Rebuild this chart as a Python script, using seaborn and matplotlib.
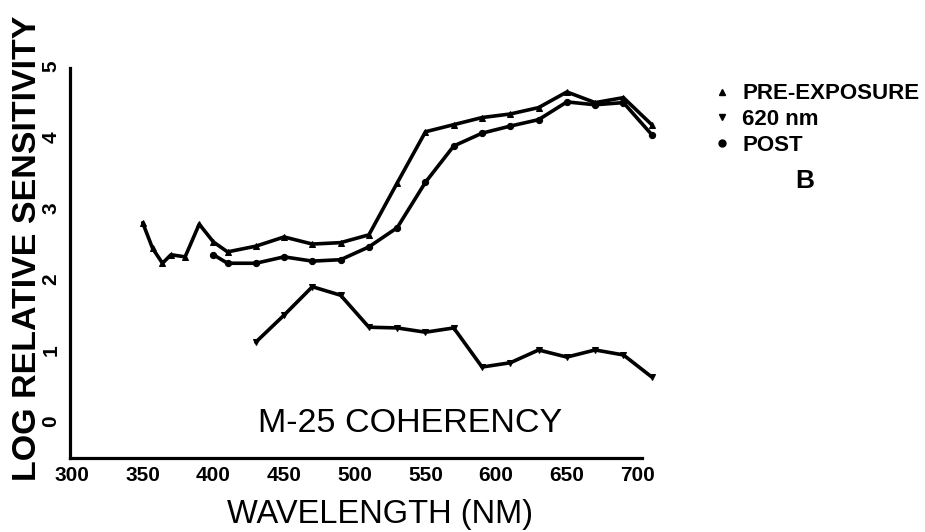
import numpy as np
import pandas as pd
import matplotlib
matplotlib.use('Agg')
import matplotlib.pyplot as plt
from matplotlib.lines import Line2D
import seaborn as sns

# spectral sensitivity
pre_wl = [350, 357, 364, 370, 380, 390, 400, 410, 430, 450, 470, 490, 510,
          530, 550, 570, 590, 610, 630, 650, 670, 690, 710]
pre_val = [2.82, 2.46, 2.25, 2.37, 2.34, 2.80, 2.55, 2.41, 2.49, 2.62, 2.52, 2.54, 2.65,
           3.38, 4.10, 4.20, 4.30, 4.35, 4.44, 4.66, 4.51, 4.58, 4.20]

post_wl = [400, 410, 430, 450, 470, 490, 510, 530, 550, 570, 590, 610, 630,
           650, 670, 690, 710]
post_val = [2.37, 2.25, 2.25, 2.34, 2.28, 2.30, 2.48, 2.75, 3.39, 3.90, 4.08, 4.18, 4.27,
            4.52, 4.48, 4.51, 4.06]

n620_wl = [430, 450, 470, 490, 510, 530, 550, 570, 590, 610, 630, 650, 670, 690, 710]
n620_val = [1.14, 1.52, 1.92, 1.80, 1.35, 1.34, 1.28, 1.34, 0.79, 0.85, 1.03, 0.93,
            1.03, 0.96, 0.65]

x_ticks = [300, 350, 400, 450, 500, 550, 600, 650, 700]
y_ticks = [0, 1, 2, 3, 4, 5]
legend_labels = ['PRE-EXPOSURE', '620 nm', 'POST']

sns.set_theme(style='white')
plt.rcParams['font.family'] = ['Liberation Sans', 'DejaVu Sans']
plt.rcParams.update({'text.color': 'black', 'axes.labelcolor': 'black',
                     'xtick.color': 'black', 'ytick.color': 'black'})

fig = plt.figure(figsize=(9.25, 5.32), dpi=100)
ax = fig.add_axes([70 / 925, 1 - 458 / 532, 595 / 925, 403 / 532])

for wl, val, mk, ms in [(pre_wl, pre_val, '^', 5), (post_wl, post_val, 'o', 4.5),
                        (n620_wl, n620_val, 'v', 5)]:
    df = pd.DataFrame({'wl': wl, 'val': val})
    sns.lineplot(data=df, x='wl', y='val', ax=ax, color='black', lw=2.6,
                 marker=mk, markersize=ms, markeredgecolor='black', sort=False)

ax.set_xlim(298.6, 719.4)
ax.set_ylim(-0.49, 5.18)
ax.set_xticks(x_ticks)
ax.set_yticks(y_ticks)

for s in ['top', 'right']:
    ax.spines[s].set_visible(False)
ax.spines['left'].set_bounds(-0.49, 5)
ax.spines['bottom'].set_bounds(298.6, 703)
for s in ['left', 'bottom']:
    ax.spines[s].set_linewidth(2.3)
    ax.spines[s].set_color('black')

ax.tick_params(axis='x', length=0, pad=6, labelsize=15, labelcolor='black')
ax.tick_params(axis='y', direction='inout', length=12, width=2, pad=1,
               labelsize=15, labelrotation=90, color='black', labelcolor='black')
for lab in ax.get_xticklabels() + ax.get_yticklabels():
    lab.set_fontweight('bold')

ax.set_xlabel('WAVELENGTH (NM)', fontsize=23.5, va='center', color='black')
ax.xaxis.set_label_coords(0.521, -0.141)
ax.set_ylabel('LOG RELATIVE SENSITIVITY', fontweight='bold', fontsize=24.5,
              va='center', color='black')
ax.yaxis.set_label_coords(-0.072, 0.521)

ax.text(539, -0.01, 'M-25 COHERENCY', fontsize=24.5, ha='center', va='center',
        color='black')

handles = [Line2D([], [], ls='none', marker=m, color='black', markersize=5)
           for m in ['^', 'v', 'o']]
fig.legend(handles, legend_labels, loc='upper left', bbox_to_anchor=(0.759, 0.864),
           frameon=False, prop={'weight': 'bold', 'size': 16},
           labelcolor='black', handlelength=0.8, handletextpad=0.5,
           labelspacing=0.21, borderpad=0)
fig.text(805 / 925, 1 - 181 / 532, 'B', fontsize=19, fontweight='bold',
         ha='center', va='center', color='black')

fig.savefig('out.png', dpi=100)
